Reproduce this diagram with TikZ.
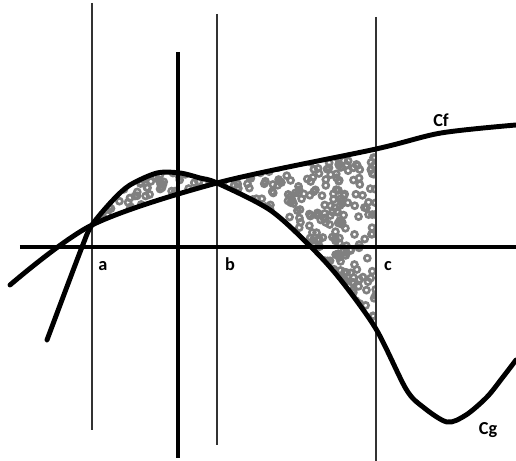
\documentclass[tikz,border=0pt]{standalone}
\usepackage{fontspec}
\setmainfont{Carlito}
% the two curves, used for drawing and for the shaded clip
\newcommand{\curvef}{plot[smooth] coordinates {(-4.2,-0.95) (-2.15,0.55) (0.975,1.6) (4.95,2.45) (6.575,2.85) (8.45,3.05)}}
\newcommand{\curveg}{plot[smooth] coordinates {(-3.275,-2.325) (-2.4,0) (-2.15,0.55) (-1.625,1.175) (-1.2,1.55) (-0.525,1.85) (0.05,1.85) (0.55,1.725) (0.975,1.6) (2.3,0.925) (3.325,0) (4.05,-0.8) (4.95,-2.05) (5.7,-3.55) (6.125,-4.0) (6.725,-4.375) (7.2,-4.2) (7.725,-3.75) (8.125,-3.25) (8.45,-2.825)}}
\begin{document}
\begin{tikzpicture}[
    curve/.style={line width=3.5pt,line cap=round},
    axis/.style={line width=3.5pt},
    guide/.style={line width=0.9pt,black!80},
    speck/.style={line width=1.9pt,black!50},
    lbl/.style={font=\fontsize{13}{15}\selectfont\bfseries,inner sep=0pt,anchor=base}]
  \useasboundingbox (-4.45,-5.35) rectangle (8.45,6.175);
  % --- Shaded area between Cf and Cg, from a to c ---
  \begin{scope}
    \clip (-2.15,-6) rectangle (4.95,7);
    \begin{scope}[even odd rule]
      \clip \curvef -- (8.45,-6) -- (-4.2,-6) -- cycle
            \curveg -- (8.45,-6) -- (-3.275,-6) -- cycle;
      \pgfmathsetseed{2024}
      \foreach \i in {1,...,900}
        \draw[speck] ({-2.15+7.1*rnd},{-2.2+4.8*rnd}) circle (0.075);
    \end{scope}
  \end{scope}
  % --- Vertical lines at a, b, c ---
  \draw[guide] (-2.15,6.1) -- (-2.15,-4.575);
  \draw[guide] (0.975,5.825) -- (0.975,-4.95);
  \draw[guide] (4.95,5.75) -- (4.95,-5.35);
  % --- Axes ---
  \draw[axis] (-3.95,0) -- (8.45,0);
  \draw[axis] (0,4.875) -- (0,-5.275);
  % --- Curves ---
  \draw[curve] \curvef;
  \draw[curve] \curveg;
  % Labels
  \node[lbl] (lblA) at (-1.875,-0.6) {a};
  \node[lbl] (lblB) at (1.3,-0.6) {b};
  \node[lbl] (lblC) at (5.25,-0.6) {c};
  \node[lbl] (lblCf) at (6.575,3.0) {Cf};
  \node[lbl] (lblCg) at (7.75,-4.7) {Cg};
\end{tikzpicture}
\end{document}
